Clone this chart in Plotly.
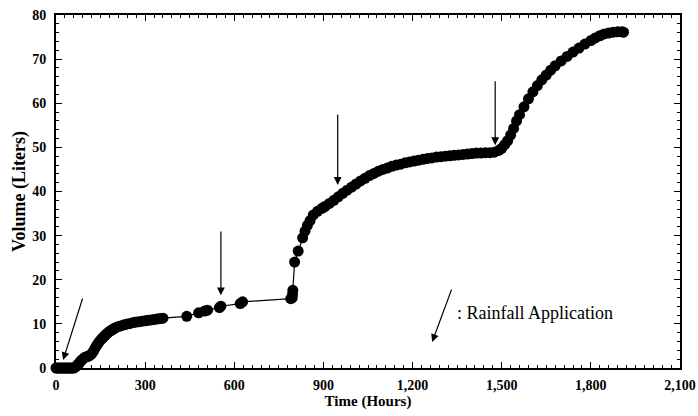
import plotly.graph_objects as go

# ---- data ----
time_h = [0, 5, 10, 15, 20, 25, 30, 35, 40, 45, 50, 55, 60,
          65, 70, 75, 80, 85, 90, 95, 100, 105, 110, 115, 120, 125, 130, 135, 140,
          145, 150, 155, 160, 165, 170, 175, 180, 185, 190, 195, 200, 210, 220,
          230, 240, 250, 260, 270, 280, 290, 300, 310, 320, 330, 340, 350, 360,
          440, 480, 500, 510, 550, 555, 620, 628, 790,
          795, 796, 797, 803, 815, 830, 838, 846, 855, 866, 880, 895,
          905, 920, 935,
          950, 965, 980, 995, 1010, 1025, 1040, 1055, 1070, 1085, 1100, 1115, 1130,
          1145, 1160, 1175, 1190, 1205, 1220, 1235, 1250, 1265, 1280, 1295, 1310,
          1325, 1340, 1355, 1370, 1385, 1400, 1415, 1430, 1445, 1460, 1475, 1490,
          1500, 1510, 1520, 1530, 1540, 1550, 1560, 1575, 1590, 1605, 1620, 1635,
          1650, 1665, 1680, 1700, 1720, 1740, 1760, 1780, 1800, 1815, 1830, 1845,
          1860, 1875, 1890, 1905, 1910]
volume_l = [0, 0, 0, 0, 0, 0, 0, 0, 0, 0, 0, 0, 0,
            0.2, 0.5, 0.9, 1.3, 1.7, 2.0, 2.3, 2.5, 2.6, 2.7, 2.9, 3.2, 3.7, 4.3, 4.9, 5.4,
            5.9, 6.3, 6.7, 7.0, 7.4, 7.7, 8.0, 8.3, 8.5, 8.7, 8.9, 9.1, 9.4, 9.6,
            9.8, 10.0, 10.1, 10.3, 10.4, 10.5, 10.6, 10.7, 10.8, 10.9, 11.0, 11.1, 11.2, 11.3,
            11.7, 12.5, 12.9, 13.1, 13.7, 14.0, 14.6, 15.0, 15.7,
            15.9, 16.7, 17.6, 24.0, 26.5, 29.5, 31.0, 32.3, 33.4, 34.7, 35.5, 36.2,
            36.6, 37.3, 38.0,
            38.8, 39.6, 40.3, 41.0, 41.7, 42.4, 43.0, 43.6, 44.1, 44.6, 45.0, 45.3, 45.7,
            46.0, 46.2, 46.5, 46.7, 46.9, 47.1, 47.3, 47.5, 47.6, 47.8, 47.9, 48.0,
            48.1, 48.2, 48.3, 48.4, 48.5, 48.6, 48.7, 48.7, 48.8, 48.8, 48.9, 49.3,
            49.8, 50.6, 51.5, 52.8, 54.3, 56.0, 57.4, 59.2, 61.0, 62.6, 64.0, 65.3,
            66.4, 67.5, 68.5, 69.6, 70.6, 71.6, 72.5, 73.4, 74.2, 74.8, 75.3, 75.7,
            75.9, 76.1, 76.2, 76.2, 76.1]

# rainfall arrows: (tip_x, tip_y, tail_x, tail_y)
arrow_tip_x = [24, 555, 948, 1478, 1266]
arrow_tip_y = [1.8, 16.5, 41.5, 50.5, 5.9]
arrow_tail_x = [91, 555, 948, 1478, 1333]
arrow_tail_y = [16.1, 31.3, 57.8, 65.3, 18.1]

x_ticks = [0, 300, 600, 900, 1200, 1500, 1800, 2100]
x_tick_labels = ["0", "300", "600", "900", "1,200", "1,500", "1,800", "2,100"]
y_ticks = [0, 10, 20, 30, 40, 50, 60, 70, 80]

FONT = "Liberation Serif, Times New Roman, serif"

fig = go.Figure()
fig.add_trace(go.Scatter(
    x=time_h, y=volume_l, mode="lines+markers",
    line=dict(color="black", width=1.2),
    marker=dict(color="black", size=11, line=dict(width=0)),
    showlegend=False, cliponaxis=False,
))

annotations = []
for tx, ty, sx, sy in zip(arrow_tip_x, arrow_tip_y, arrow_tail_x, arrow_tail_y):
    annotations.append(dict(
        x=tx, y=ty, ax=sx, ay=sy, xref="x", yref="y", axref="x", ayref="y",
        text="", showarrow=True, arrowhead=2, arrowsize=1.3, arrowwidth=1.2,
        arrowcolor="black", standoff=0,
    ))
annotations.append(dict(
    x=1343, y=12.5, xref="x", yref="y", xanchor="left", yanchor="middle",
    text=": Rainfall Application", showarrow=False,
    font=dict(family=FONT, size=18, color="black"),
))

axis_common = dict(
    showline=True, linecolor="black", linewidth=2, mirror="allticks",
    ticks="inside", ticklen=6, tickwidth=1.2, tickcolor="black",
    showgrid=False, zeroline=False, automargin=False,
    tickfont=dict(family=FONT, size=14, color="black", weight="bold"),
)

fig.update_layout(
    width=698, height=416,
    margin=dict(l=56, r=18, t=15, b=48, autoexpand=False),
    paper_bgcolor="white", plot_bgcolor="white",
    font=dict(family=FONT, color="black"),
    xaxis=dict(range=[0, 2100], tickvals=x_ticks, ticktext=x_tick_labels,
               ticklabelstandoff=3,
               minor=dict(dtick=30, ticks="inside", ticklen=3, tickcolor="black", tickwidth=1),
               title=dict(text="Time (Hours)", standoff=2,
                          font=dict(family=FONT, size=15, color="black", weight="bold")),
               **axis_common),
    yaxis=dict(range=[0, 80], tickvals=y_ticks, ticklabelstandoff=5,
               minor=dict(dtick=2, ticks="inside", ticklen=3, tickcolor="black", tickwidth=1),
               title=dict(text="Volume (Liters)", standoff=2,
                          font=dict(family=FONT, size=18, color="black", weight="bold")),
               **axis_common),
    annotations=annotations,
)

fig.write_html("out.html", config={"displayModeBar": False},
               post_script="document.body.style.margin='0';")
